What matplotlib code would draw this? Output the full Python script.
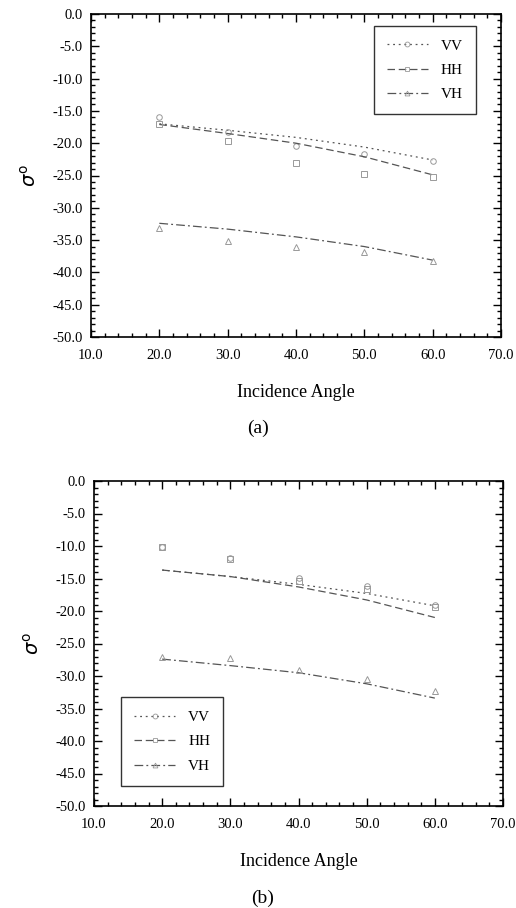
import matplotlib
matplotlib.use("Agg")
import matplotlib.pyplot as plt
from matplotlib.ticker import MultipleLocator, FormatStrFormatter

# =========================================================================
# DATA
# =========================================================================
angles = [20, 30, 40, 50, 60]

# panel (a): measured points
a_vv_pts = [-15.9, -18.3, -20.5, -21.7, -22.8]
a_hh_pts = [-17.0, -19.6, -23.0, -24.8, -25.2]
a_vh_pts = [-33.2, -35.2, -36.1, -36.8, -38.3]
# panel (a): model curves
a_vv_line = [-17.0, -18.0, -19.1, -20.6, -22.6]
a_hh_line = [-17.1, -18.5, -20.0, -22.1, -24.9]
a_vh_line = [-32.4, -33.3, -34.5, -36.0, -38.1]

# panel (b): measured points
b_vv_pts = [-10.1, -11.9, -14.9, -16.2, -19.1]
b_hh_pts = [-10.2, -12.0, -15.4, -16.6, -19.4]
b_vh_pts = [-27.0, -27.2, -29.1, -30.5, -32.3]
# panel (b): model curves
b_vv_line = [-13.7, -14.7, -15.9, -17.3, -19.2]
b_hh_line = [-13.7, -14.7, -16.3, -18.3, -21.0]
b_vh_line = [-27.4, -28.4, -29.5, -31.2, -33.4]

labels = ["VV", "HH", "VH"]

plt.rcParams["font.family"] = ["Liberation Serif", "DejaVu Serif"]

W, H = 516, 908
fig = plt.figure(figsize=(W / 100, H / 100), dpi=100)


def axes_px(left, top, right, bottom):
    return fig.add_axes([left / W, 1 - bottom / H, (right - left) / W, (bottom - top) / H])


line_col = "#555555"
pt_col = "#999999"
styles = [
    dict(ls=(0, (1.5, 3.0)), marker="o"),
    dict(ls=(0, (6, 3)), marker="s"),
    dict(ls=(0, (7, 2.5, 1.5, 2.5)), marker="^"),
]


def draw_panel(ax, pts, lines, leg_loc, leg_anchor):
    for (p, l, st) in zip(pts, lines, styles):
        ax.plot(angles, l, color=line_col, lw=0.9, linestyle=st["ls"])
        ax.plot(angles, p, linestyle="none", marker=st["marker"], ms=4,
                mfc="none", mec=pt_col, mew=0.7)
    # legend proxies
    handles = []
    for st in styles:
        h, = ax.plot([], [], color=line_col, lw=0.9, linestyle=st["ls"],
                     marker=st["marker"], ms=3.5, mfc="none", mec=pt_col, mew=0.6)
        handles.append(h)
    leg = ax.legend(handles, labels, loc=leg_loc, bbox_to_anchor=leg_anchor,
                    fontsize=11, frameon=True, fancybox=False, edgecolor="black",
                    handlelength=2.7, borderpad=0.85, labelspacing=0.7,
                    handletextpad=0.85, borderaxespad=0)
    leg.get_frame().set_linewidth(1.0)

    ax.set_xlim(10, 70)
    ax.set_ylim(-50, 0)
    ax.xaxis.set_major_locator(MultipleLocator(10))
    ax.xaxis.set_minor_locator(MultipleLocator(2))
    ax.yaxis.set_major_locator(MultipleLocator(5))
    ax.yaxis.set_minor_locator(MultipleLocator(1))
    ax.xaxis.set_major_formatter(FormatStrFormatter("%.1f"))
    ax.yaxis.set_major_formatter(FormatStrFormatter("%.1f"))
    ax.tick_params(which="both", direction="in", top=True, right=True,
                   labelsize=10.5, width=1.0)
    ax.tick_params(which="major", length=6)
    ax.tick_params(which="minor", length=3)
    ax.tick_params(axis="x", which="major", pad=8.5)
    ax.tick_params(axis="y", which="major", pad=6)
    for s in ax.spines.values():
        s.set_linewidth(1.2)
    ax.set_xlabel("Incidence Angle", fontsize=13, labelpad=16)
    ax.set_ylabel(r"$\sigma^{\mathrm{o}}$", fontsize=14, labelpad=9)


ax_a = axes_px(91, 14, 501, 337)
draw_panel(ax_a, [a_vv_pts, a_hh_pts, a_vh_pts],
           [a_vv_line, a_hh_line, a_vh_line], "upper right", (0.939, 0.963))
fig.text(258 / W, 1 - 428 / H, "(a)", ha="center", va="center", fontsize=14)

ax_b = axes_px(94, 481, 503, 806)
draw_panel(ax_b, [b_vv_pts, b_hh_pts, b_vh_pts],
           [b_vv_line, b_hh_line, b_vh_line], "lower left", (0.066, 0.062))
fig.text(263 / W, 1 - 898 / H, "(b)", ha="center", va="center", fontsize=14)

fig.savefig("out.png", dpi=100)
